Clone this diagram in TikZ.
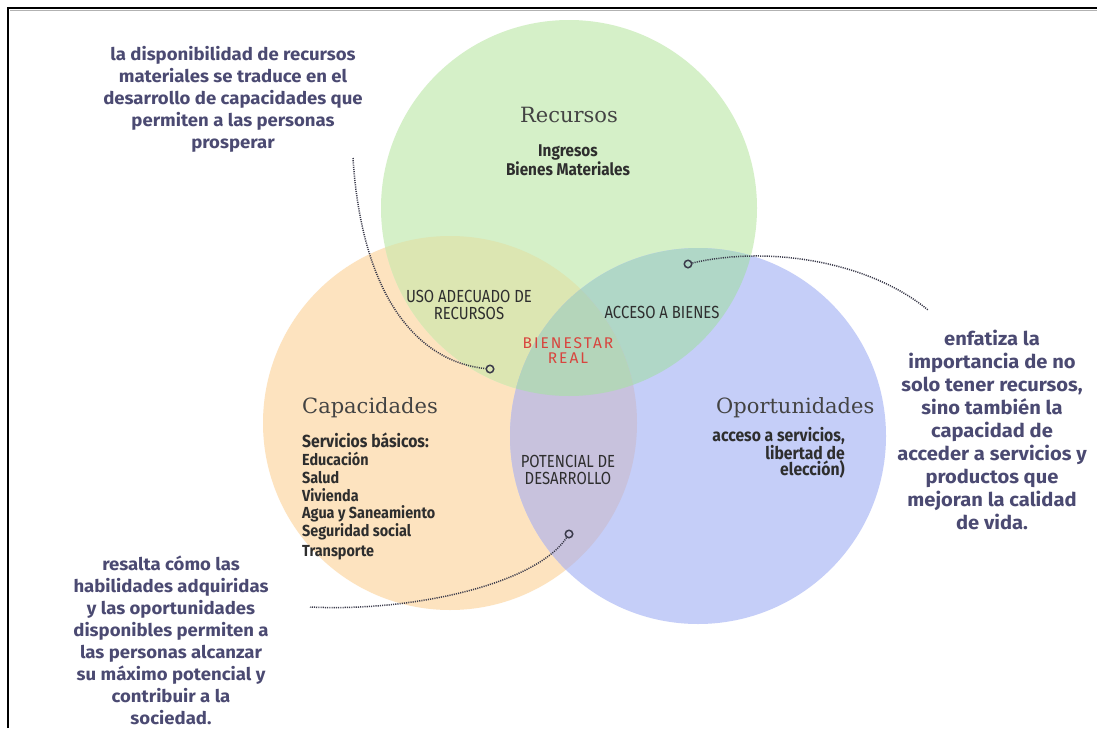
\documentclass[tikz,border=0pt]{standalone}
\usepackage{fontspec}
\setmainfont{Fira Sans}
\newfontfamily\ttlfont{DejaVu Serif}
\newfontfamily\condfont[FakeStretch=0.85]{Fira Sans}
\newfontfamily\semifont[FakeStretch=0.9]{Fira Sans}
\newfontfamily\annotfont[FakeStretch=1.06]{Fira Sans}
\newfontfamily\spacedfont[LetterSpace=13]{Fira Sans}
\definecolor{cgreen}{HTML}{D5F0C8}
\definecolor{corange}{HTML}{FDE3BF}
\definecolor{cblue}{HTML}{C5CEF8}
\definecolor{colive}{HTML}{DCE6B2}
\definecolor{cteal}{HTML}{B0D7C7}
\definecolor{cpurple}{HTML}{C8C2DD}
\definecolor{ccenter}{HTML}{B4D5BA}
\definecolor{annot}{HTML}{4B4A72}
\definecolor{inner}{HTML}{2E2E2E}
\definecolor{redtxt}{HTML}{D8453E}
\definecolor{dotcol}{HTML}{3A3A4A}
\tikzset{
  annotbox/.style={align=center, text=annot, font=\annotfont\bfseries\fontsize{17.5}{22}\selectfont, inner sep=0},
  ttl/.style={text=inner!90, font=\ttlfont\fontsize{21}{24}\selectfont, inner sep=0},
  capsbox/.style={align=center, text=inner, font=\condfont\fontsize{17.5}{17.5}\selectfont, inner sep=0},
  itembox/.style={align=left, text=inner, font=\semifont\bfseries\fontsize{16}{17.8}\selectfont, inner sep=0},
  dotline/.style={draw=dotcol, line width=1.5pt, dash pattern=on 1.1pt off 1.1pt},
  dotend/.style={circle, draw=dotcol, line width=1.5pt, fill=none, inner sep=0, minimum size=7.5pt}
}
\begin{document}
\begin{tikzpicture}[x=1pt,y=-1pt]
\useasboundingbox (0,0) rectangle (1097,728);
\fill[white] (0,0) rectangle (1097,728);
% frame
\draw[line width=0.8pt, black!30] (10,10.8) -- (1097,10.8);
\draw[line width=2.6pt, black] (8,728) -- (8,8) -- (1097,8);
% circles
\def\Gc{(569,208) circle [radius=188pt]}
\def\Oc{(450,423) circle [radius=187pt]}
\def\Bc{(698,436) circle [radius=188pt]}
\fill[corange] \Oc;
\fill[cgreen] \Gc;
\fill[cblue] \Bc;
\begin{scope}\clip \Oc; \fill[colive] \Gc; \end{scope}
\begin{scope}\clip \Gc; \fill[cteal] \Bc; \end{scope}
\begin{scope}\clip \Oc; \fill[cpurple] \Bc; \end{scope}
\begin{scope}\clip \Oc; \clip \Gc; \fill[ccenter] \Bc; \end{scope}
% titles
\node[ttl] (trec) at (569,115) {Recursos};
\node[ttl, anchor=west] (tcap) at (302,408) {Capacidades};
\node[ttl, anchor=west] (topo) at (716,408) {Oportunidades};
% inner texts
\node[itembox, align=center, font=\semifont\bfseries\fontsize{17}{19}\selectfont] (rec) at (568,160) {Ingresos\\Bienes Materiales};
\node[capsbox] (uso) at (469,305) {USO ADECUADO DE\\RECURSOS};
\node[capsbox] (acc) at (662,312) {ACCESO A BIENES};
\node[align=center, text=redtxt, font=\spacedfont\fontsize{15.5}{15}\selectfont, inner sep=0] (bien) at (568,351) {BIENESTAR\\REAL};
\node[capsbox] (pot) at (568,470) {POTENCIAL DE\\DESARROLLO};
\node[anchor=north west, text=inner, font=\semifont\bfseries\fontsize{17.5}{18}\selectfont, inner sep=0] (serv) at (302,433) {Servicios básicos:};
\node[itembox, anchor=north west] (items) at (302,452) {Educación\\Salud\\Vivienda\\Agua y Saneamiento\\Seguridad social\\[2pt]Transporte};
\node[itembox, align=right, anchor=north east, font=\semifont\bfseries\fontsize{17.5}{15.5}\selectfont] (opo) at (845,427) {acceso a servicios,\\libertad de\\elección)};
% annotations
\node[annotbox] (a1) at (233,99) {la disponibilidad de recursos\\materiales se traduce en el\\desarrollo de capacidades que\\permiten a las personas\\prosperar};
\node[annotbox, font=\annotfont\bfseries\fontsize{19}{23}\selectfont] (a2) at (992,430) {enfatiza la\\importancia de no\\solo tener recursos,\\sino también la\\capacidad de\\acceder a servicios y\\productos que\\mejoran la calidad\\de vida.};
\node[annotbox] (a3) at (171,640) {resalta cómo las\\habilidades adquiridas\\y las oportunidades\\disponibles permiten a\\las personas alcanzar\\su máximo potencial y\\contribuir a la\\sociedad.};
% connectors
\node[dotend] (e1) at (490,369) {};
\node[dotend] (e2) at (688,264) {};
\node[dotend] (e3) at (569,534) {};
\coordinate (s1) at (353,158);
\coordinate (s2) at (928,310);
\coordinate (s3) at (310,607);
\draw[dotline] (s1) .. controls (362,300) and (420,362) .. (e1);
\draw[dotline] (e2) .. controls (770,245) and (870,262) .. (s2);
\draw[dotline] (e3) .. controls (535,585) and (410,612) .. (s3);
\end{tikzpicture}
\end{document}
